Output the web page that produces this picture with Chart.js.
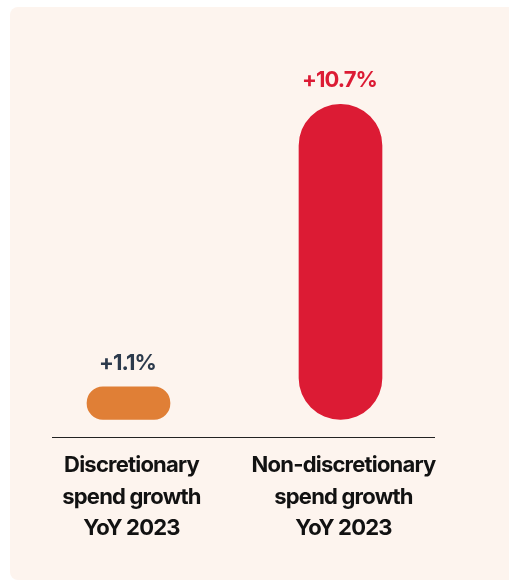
<!DOCTYPE html>
<html>
<head>
<meta charset="utf-8">
<script src="https://cdn.jsdelivr.net/npm/chart.js@4.4.0/dist/chart.umd.min.js"></script>
<style>
  html, body { margin: 0; padding: 0; background: #ffffff; }
  #wrap { position: relative; width: 509px; height: 584px; overflow: hidden; }
  #card { position: absolute; left: 10px; top: 7px; width: 510px; height: 573px; background: #fdf4ee; border-radius: 8px; }
  #c { position: absolute; left: 0; top: 0; }
</style>
</head>
<body>
<div id="wrap">
  <div id="card"></div>
  <canvas id="c" width="509" height="584"></canvas>
</div>
<script>
const categories = [
  ['Discretionary', 'spend growth', 'YoY 2023'],
  ['Non-discretionary', 'spend growth', 'YoY 2023']
];
const values = [1.1, 10.7];
const valueLabels = ['+1.1%', '+10.7%'];
const barColors = ['#e07f36', '#dc1b34'];
const labelColors = ['#2c3a4c', '#dc1b34'];

const FONT = 'Inter, "Noto Sans", sans-serif';

const overlay = {
  id: 'overlay',
  beforeDraw(chart) {
    chart.ctx.letterSpacing = '-0.8px';
  },
  afterDatasetsDraw(chart) {
    const ctx = chart.ctx;
    const area = chart.chartArea;
    ctx.save();
    // baseline
    ctx.strokeStyle = '#222222';
    ctx.lineWidth = 1.2;
    ctx.beginPath();
    ctx.moveTo(area.left + 29.5, area.bottom + 0.5);
    ctx.lineTo(area.right - 11.5, area.bottom + 0.5);
    ctx.stroke();
    // value labels
    const meta = chart.getDatasetMeta(0);
    ctx.font = '700 22px ' + FONT;
    ctx.letterSpacing = '-0.9px';
    ctx.textAlign = 'center';
    ctx.textBaseline = 'alphabetic';
    meta.data.forEach((bar, i) => {
      ctx.fillStyle = labelColors[i];
      ctx.fillText(valueLabels[i], bar.x - 1, bar.y - 17);
    });
    ctx.restore();
  }
};

new Chart(document.getElementById('c'), {
  type: 'bar',
  data: {
    labels: categories,
    datasets: [{
      data: values,
      backgroundColor: barColors,
      borderRadius: 42,
      borderSkipped: false,
      barThickness: 83
    }]
  },
  options: {
    responsive: false,
    devicePixelRatio: 1,
    animation: false,
    layout: { padding: { left: 22.5, right: 62.5, top: 95.5, bottom: 0 } },
    plugins: { legend: { display: false }, tooltip: { enabled: false } },
    scales: {
      y: { display: false, min: -0.6, max: 11 },
      x: {
        offset: true,
        grid: { display: false, drawTicks: false },
        border: { display: false },
        ticks: {
          color: '#121212',
          font: { family: FONT, size: 22, weight: '700', lineHeight: 1.43 },
          padding: 13,
          labelOffset: 3,
          maxRotation: 0,
          autoSkip: false
        },
        afterFit(s) { s.height = 147; }
      }
    }
  },
  plugins: [overlay]
});
</script>
</body>
</html>
